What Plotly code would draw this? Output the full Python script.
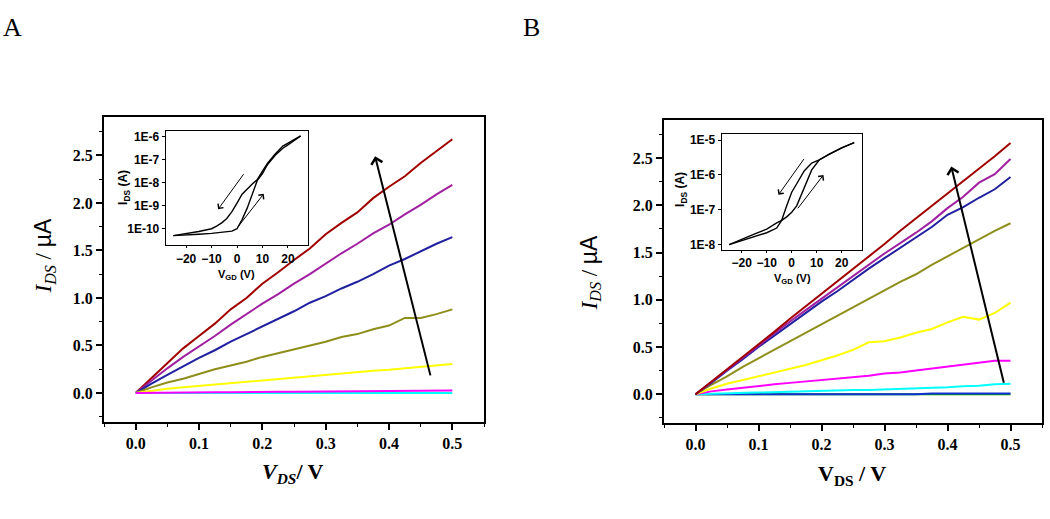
import plotly.graph_objects as go

W, H = 1050, 519

# ---------------- data ----------------
vds = [0, 0.025, 0.05, 0.075, 0.1, 0.125, 0.15, 0.175, 0.2, 0.225, 0.25,
       0.275, 0.3, 0.325, 0.35, 0.375, 0.4, 0.425, 0.45, 0.475, 0.5]

# Panel A output curves (I_DS in uA)
a_red     = [0, 0.16, 0.31, 0.47, 0.60, 0.73, 0.88, 1.00, 1.15, 1.27, 1.40, 1.52, 1.67, 1.79, 1.90, 2.05, 2.17, 2.28, 2.42, 2.55, 2.67]
a_purple  = [0, 0.13, 0.26, 0.38, 0.49, 0.60, 0.72, 0.83, 0.94, 1.04, 1.15, 1.25, 1.36, 1.47, 1.57, 1.68, 1.77, 1.88, 1.98, 2.09, 2.19]
a_blue    = [0, 0.10, 0.19, 0.28, 0.37, 0.45, 0.54, 0.62, 0.70, 0.78, 0.86, 0.95, 1.02, 1.10, 1.17, 1.25, 1.34, 1.41, 1.49, 1.57, 1.64]
a_olive   = [0, 0.06, 0.11, 0.15, 0.20, 0.25, 0.29, 0.33, 0.38, 0.42, 0.46, 0.50, 0.54, 0.59, 0.62, 0.67, 0.71, 0.79, 0.79, 0.83, 0.88]
a_yellow  = [0, 0.025, 0.045, 0.06, 0.075, 0.09, 0.105, 0.12, 0.135, 0.15, 0.165, 0.18, 0.19, 0.205, 0.22, 0.235, 0.245, 0.26, 0.275, 0.29, 0.305]
a_magenta = [0, 0.003, 0.005, 0.006, 0.007, 0.008, 0.008, 0.012, 0.012, 0.013, 0.014, 0.015, 0.015, 0.016, 0.017, 0.018, 0.020, 0.024, 0.025, 0.026, 0.027]
a_cyan    = [0, 0, 0, 0, 0, 0, 0, 0, 0, 0, 0, 0, 0, 0, 0, 0, 0, 0, 0, 0, 0]

# Panel B output curves (I_DS in uA)
b_red     = [0, 0.13, 0.27, 0.40, 0.53, 0.66, 0.80, 0.93, 1.06, 1.19, 1.33, 1.46, 1.59, 1.73, 1.86, 1.99, 2.12, 2.25, 2.39, 2.52, 2.66]
b_purple  = [0, 0.13, 0.26, 0.39, 0.52, 0.64, 0.77, 0.89, 1.01, 1.13, 1.25, 1.37, 1.49, 1.60, 1.71, 1.83, 1.97, 2.09, 2.24, 2.33, 2.49]
b_blue    = [0, 0.12, 0.25, 0.37, 0.50, 0.62, 0.74, 0.86, 0.98, 1.09, 1.21, 1.33, 1.44, 1.55, 1.66, 1.77, 1.90, 1.98, 2.08, 2.17, 2.30]
b_olive   = [0, 0.10, 0.19, 0.29, 0.38, 0.47, 0.56, 0.65, 0.74, 0.83, 0.92, 1.01, 1.10, 1.19, 1.27, 1.37, 1.46, 1.55, 1.64, 1.73, 1.81]
b_yellow  = [0, 0.06, 0.11, 0.15, 0.19, 0.23, 0.27, 0.31, 0.36, 0.41, 0.47, 0.55, 0.56, 0.60, 0.65, 0.69, 0.76, 0.82, 0.79, 0.86, 0.97]
b_magenta = [0, 0.03, 0.05, 0.07, 0.09, 0.105, 0.12, 0.135, 0.15, 0.165, 0.18, 0.195, 0.22, 0.23, 0.25, 0.27, 0.29, 0.31, 0.33, 0.355, 0.355]
b_cyan    = [0, 0.005, 0.01, 0.015, 0.02, 0.022, 0.025, 0.03, 0.035, 0.04, 0.045, 0.045, 0.05, 0.055, 0.06, 0.065, 0.075, 0.085, 0.09, 0.105, 0.11]
b_green   = [0, 0, 0, 0, 0, 0, 0, 0, 0, 0, 0, 0, 0, 0, 0, 0, 0, 0, 0, 0, 0]
b_navy    = [0, 0, 0, 0, 0, 0, 0, 0, 0, 0, 0, 0, 0, 0, 0, 0.008, 0.008, 0.008, 0.008, 0.008, 0.008]

# Inset A transfer curve (V_GD in V, I_DS in A)
ia_vg_fwd = [-25, -20, -15, -10, -5, -2, 0, 2, 4, 6, 8, 10, 12, 15, 18, 20, 22, 25]
ia_i_fwd  = [5.0e-11, 5.2e-11, 5.8e-11, 6.3e-11, 7.1e-11, 7.9e-11, 1.0e-10, 2.5e-10, 7.9e-10,
             3.2e-09, 1.3e-08, 2.5e-08, 6.3e-08, 1.6e-07, 3.2e-07, 4.5e-07, 6.3e-07, 1.1e-06]
ia_vg_rev = [25, 22, 20, 18, 15, 12, 10, 8, 6, 4, 2, 0, -2, -4, -6, -8, -10, -15, -20, -25]
ia_i_rev  = [1.1e-06, 7.1e-07, 5.0e-07, 4.0e-07, 1.8e-07, 7.1e-08, 3.2e-08, 1.4e-08, 8.9e-09,
             5.6e-09, 3.2e-09, 1.3e-09, 5.6e-10, 2.8e-10, 1.8e-10, 1.3e-10, 1.0e-10, 7.6e-11, 6.0e-11, 5.0e-11]

# Inset B transfer curve (V_GD in V, I_DS in A)
ib_vg_fwd = [-25, -20, -15, -10, -6, -4, -2, 0, 2, 5, 8, 11, 15, 20, 25]
ib_i_fwd  = [1.0e-08, 1.3e-08, 1.7e-08, 2.2e-08, 3.0e-08, 5.0e-08, 6.3e-08, 8.5e-08, 1.3e-07,
             4.5e-07, 1.4e-06, 2.7e-06, 4.0e-06, 6.0e-06, 8.5e-06]
ib_vg_rev = [25, 20, 15, 11, 8, 5, 2, 0, -2, -4, -6, -10, -15, -20, -25]
ib_i_rev  = [8.5e-06, 6.0e-06, 3.9e-06, 2.7e-06, 2.2e-06, 1.3e-06, 5.6e-07, 3.2e-07, 1.3e-07,
             5.0e-08, 4.2e-08, 2.8e-08, 2.0e-08, 1.4e-08, 1.0e-08]

# ---------------- helpers ----------------
def fx(p):
    return p / W

def fy(p):
    return 1 - p / H

fig = go.Figure()

series_a = [(a_red, "#A00000"), (a_purple, "#A020A0"), (a_blue, "#2020A0"), (a_olive, "#8E8E1A"),
            (a_yellow, "#FFFF00"), (a_cyan, "#00FFFF"), (a_magenta, "#FF00FF")]
for vals, col in series_a:
    fig.add_trace(go.Scatter(x=vds, y=vals, mode="lines", line=dict(color=col, width=2),
                             xaxis="x", yaxis="y", showlegend=False, hoverinfo="skip"))

series_b = [(b_green, "#00A000"), (b_navy, "#1030D0"), (b_cyan, "#00FFFF"), (b_magenta, "#FF00FF"),
            (b_yellow, "#FFFF00"), (b_olive, "#8E8E1A"), (b_blue, "#2020A0"), (b_purple, "#A020A0"),
            (b_red, "#A00000")]
for vals, col in series_b:
    fig.add_trace(go.Scatter(x=vds, y=vals, mode="lines", line=dict(color=col, width=2),
                             xaxis="x2", yaxis="y2", showlegend=False, hoverinfo="skip"))

for xs, ys in [(ia_vg_fwd, ia_i_fwd), (ia_vg_rev, ia_i_rev)]:
    fig.add_trace(go.Scatter(x=xs, y=ys, mode="lines", line=dict(color="black", width=1.4),
                             xaxis="x3", yaxis="y3", showlegend=False, hoverinfo="skip"))
for xs, ys in [(ib_vg_fwd, ib_i_fwd), (ib_vg_rev, ib_i_rev)]:
    fig.add_trace(go.Scatter(x=xs, y=ys, mode="lines", line=dict(color="black", width=1.4),
                             xaxis="x4", yaxis="y4", showlegend=False, hoverinfo="skip"))

serif = "Liberation Serif, Times New Roman, serif"
sans = "Liberation Sans, Arial, sans-serif"
tickfont_main = dict(family=serif, size=16, color="black", weight="bold")
tickfont_inset = dict(family=sans, size=12, color="black", weight="bold")

def main_x(domain, anchor):
    return dict(domain=domain, anchor=anchor, range=[-0.05, 0.55], tickmode="linear", tick0=0,
                dtick=0.1, tickformat=".1f", ticks="outside", ticklen=6, tickwidth=1.5,
                tickcolor="black", showline=True, linewidth=2, linecolor="black", mirror=True,
                showgrid=False, zeroline=False, tickfont=tickfont_main,
                minor=dict(ticks="outside", ticklen=3, tickwidth=1.2, tickcolor="black",
                           tick0=0, dtick=0.05, showgrid=False))

def main_y(domain, anchor):
    return dict(domain=domain, anchor=anchor, range=[-0.3, 2.9], tickmode="linear", tick0=0,
                dtick=0.5, tickformat=".1f", ticks="outside", ticklen=6, tickwidth=1.5,
                tickcolor="black", showline=True, linewidth=2, linecolor="black", mirror=True,
                showgrid=False, zeroline=False, tickfont=tickfont_main,
                minor=dict(ticks="outside", ticklen=3, tickwidth=1.2, tickcolor="black",
                           tick0=0, dtick=0.25, showgrid=False))

def inset_x(domain, anchor):
    return dict(domain=domain, anchor=anchor, range=[-28, 28], tickvals=[-20, -10, 0, 10, 20],
                ticks="outside", ticklen=2, tickwidth=1, tickcolor="black", showline=True,
                linewidth=1, linecolor="black", mirror=True, showgrid=False, zeroline=False,
                tickfont=tickfont_inset)

def inset_y(domain, anchor, rng, vals, texts):
    return dict(domain=domain, anchor=anchor, type="log", range=rng, tickvals=vals, ticktext=texts,
                ticks="outside", ticklen=3, tickwidth=1, tickcolor="black", showline=True,
                linewidth=1, linecolor="black", mirror=True, showgrid=False, zeroline=False,
                tickfont=tickfont_inset)

fig.update_layout(
    width=W, height=H, autosize=False,
    margin=dict(l=0, r=0, t=0, b=0),
    paper_bgcolor="white", plot_bgcolor="white",
    xaxis=main_x([fx(104), fx(484)], "y"),
    yaxis=main_y([fy(423), fy(117)], "x"),
    xaxis2=main_x([fx(664), fx(1042)], "y2"),
    yaxis2=main_y([fy(424), fy(120)], "x2"),
    xaxis3=inset_x([fx(165.7), fx(308.3)], "y3"),
    yaxis3=inset_y([fy(245.7), fy(130.7)], "x3", [-10.72, -5.74],
                   [1e-10, 1e-9, 1e-8, 1e-7, 1e-6], ["1E-10", "1E-9", "1E-8", "1E-7", "1E-6"]),
    xaxis4=inset_x([fx(721.7), fx(861.7)], "y4"),
    yaxis4=inset_y([fy(250), fy(133.3)], "x4", [-8.14, -4.81],
                   [1e-8, 1e-7, 1e-6, 1e-5], ["1E-8", "1E-7", "1E-6", "1E-5"]),
)

def label(x, y, text, family, size, angle=0):
    return dict(x=fx(x), y=fy(y), xref="paper", yref="paper", text=text, showarrow=False,
                xanchor="center", yanchor="middle", textangle=angle,
                font=dict(family=family, size=size, color="black"))

ann = []
# panel letters
ann.append(label(12, 27, "A", serif, 26))
ann.append(label(531, 27, "B", serif, 26))
# main axis titles
ytitle = "<i>I</i><sub><i>DS</i></sub> / <span style='font-family:Liberation Sans'>µA</span>"
ann.append(label(45, 257, ytitle, serif, 23, -90))
ann.append(label(590, 274, ytitle, serif, 23, -90))
ann.append(label(293, 475, "<b><i>V</i><sub><i>DS</i></sub>/ V</b>", serif, 22))
ann.append(label(852, 477, "<b>V<sub>DS</sub> / V</b>", serif, 22))
# inset axis titles
ann.append(label(124, 188, "<b>I<sub>DS</sub> (A)</b>", sans, 12, -90))
ann.append(label(237, 276, "<b>V<sub>GD</sub> (V)</b>", sans, 11))
ann.append(label(681, 190, "<b>I<sub>DS</sub> (A)</b>", sans, 12, -90))
ann.append(label(792, 280, "<b>V<sub>GD</sub> (V)</b>", sans, 11))
# big arrows
ann.append(dict(x=0.378, y=2.49, xref="x", yref="y", ax=0.466, ay=0.17, axref="x", ayref="y",
                text="", showarrow=True, arrowhead=4, arrowsize=1.1, arrowwidth=2, arrowcolor="black"))
ann.append(dict(x=0.406, y=2.41, xref="x2", yref="y2", ax=0.490, ay=0.105, axref="x2", ayref="y2",
                text="", showarrow=True, arrowhead=4, arrowsize=1.1, arrowwidth=2, arrowcolor="black"))
# inset arrows (log axes -> log10 coordinates)
ann.append(dict(x=-7.4, y=-9.15, xref="x3", yref="y3", ax=3.0, ay=-7.56, axref="x3", ayref="y3",
                text="", showarrow=True, arrowhead=4, arrowsize=1.3, arrowwidth=1, arrowcolor="black"))
ann.append(dict(x=10.5, y=-8.48, xref="x3", yref="y3", ax=-0.2, ay=-10.0, axref="x3", ayref="y3",
                text="", showarrow=True, arrowhead=4, arrowsize=1.3, arrowwidth=1, arrowcolor="black"))
ann.append(dict(x=-5.3, y=-6.57, xref="x4", yref="y4", ax=5.3, ay=-5.5, axref="x4", ayref="y4",
                text="", showarrow=True, arrowhead=4, arrowsize=1.3, arrowwidth=1, arrowcolor="black"))
ann.append(dict(x=12.7, y=-6.0, xref="x4", yref="y4", ax=2.0, ay=-7.0, axref="x4", ayref="y4",
                text="", showarrow=True, arrowhead=4, arrowsize=1.3, arrowwidth=1, arrowcolor="black"))

fig.update_layout(annotations=ann)
fig.write_html("out.html", config={"displayModeBar": False},
               post_script="document.body.style.margin='0px';document.body.style.overflow='hidden';")
